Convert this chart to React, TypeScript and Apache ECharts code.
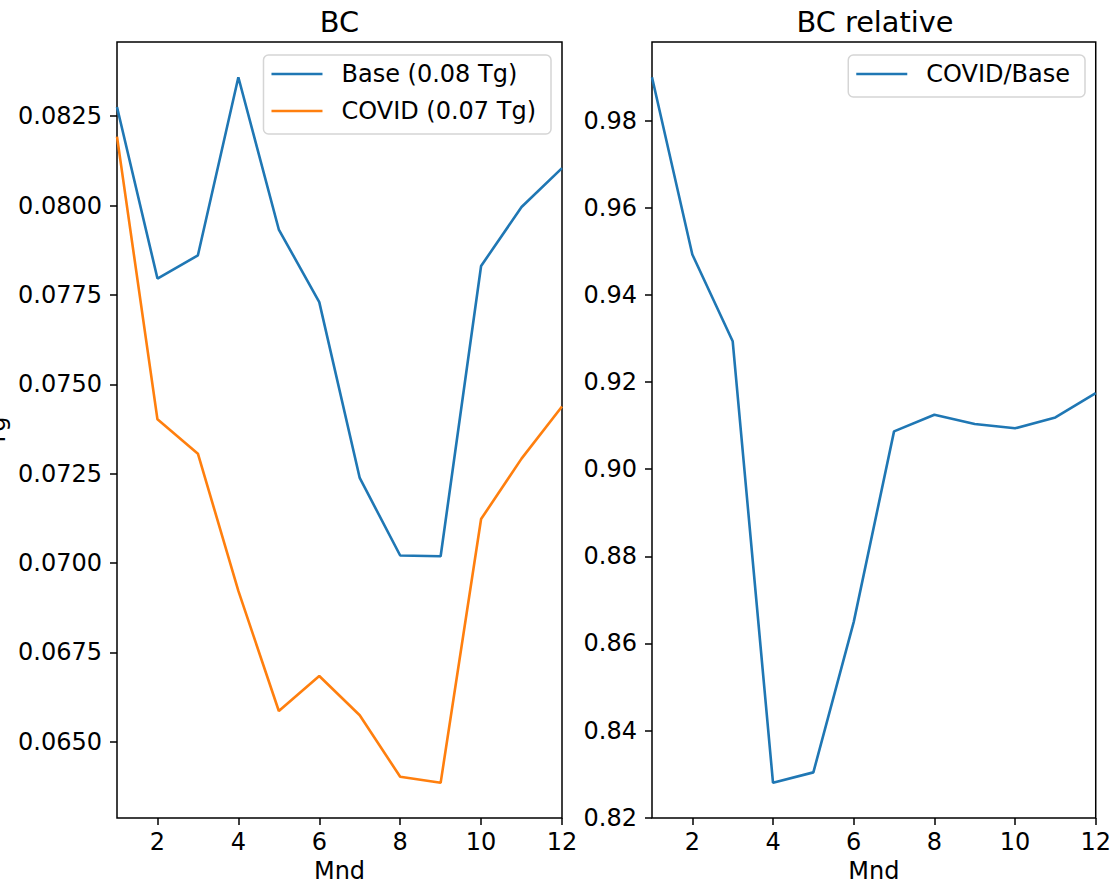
import React, { useEffect, useRef } from "react";
import * as echarts from "echarts";

const months = [1, 2, 3, 4, 5, 6, 7, 8, 9, 10, 11, 12];
const baseValues = [0.08276, 0.07796, 0.07861, 0.08359, 0.07933, 0.0773, 0.07238, 0.07021, 0.07019, 0.07831, 0.07996, 0.08105];
const covidValues = [0.08193, 0.07402, 0.07306, 0.06922, 0.06586, 0.06684, 0.06574, 0.06402, 0.06385, 0.07123, 0.07292, 0.07438];
const ratioValues = [0.99, 0.9493, 0.9294, 0.828, 0.8304, 0.8649, 0.9087, 0.9125, 0.9104, 0.9094, 0.9119, 0.9175];

const xTicks = [2, 4, 6, 8, 10, 12];
const leftYTicks = [0.065, 0.0675, 0.07, 0.0725, 0.075, 0.0775, 0.08, 0.0825];
const rightYTicks = [0.82, 0.84, 0.86, 0.88, 0.9, 0.92, 0.94, 0.96, 0.98];

const baseName = "Base (0.08 Tg)";
const covidName = "COVID (0.07 Tg)";
const ratioName = "COVID/Base";

const FONT = "DejaVu Sans";
const BLUE = "#1f77b4";
const ORANGE = "#ff7f0e";

function limits(arrs: number[][]) {
  const all = arrs.flat();
  const mn = Math.min(...all);
  const mx = Math.max(...all);
  const m = (mx - mn) * 0.05;
  return [mn - m, mx + m];
}

export default function App() {
  const ref = useRef<HTMLDivElement>(null);
  useEffect(() => {
    if (!ref.current) return;
    const chart = echarts.init(ref.current, undefined, { renderer: "svg" });
    const [lMin, lMax] = limits([baseValues, covidValues]);
    const [rMin, rMax] = limits([ratioValues]);
    const pairs = (vals: number[]) => months.map((m, i) => [m, vals[i]]);

    const xAxisCommon = (gridIndex: number) => ({
      type: "value",
      gridIndex,
      min: 1,
      max: 12,
      name: "Mnd",
      nameLocation: "middle",
      nameGap: 52,
      nameTextStyle: { fontFamily: FONT, fontSize: 24, color: "#000", verticalAlign: "middle" },
      axisLine: { show: false },
      splitLine: { show: false },
      axisTick: { show: true, length: 7, lineStyle: { color: "#000", width: 1.5 }, customValues: xTicks },
      axisLabel: {
        customValues: xTicks,
        margin: 12,
        fontFamily: FONT,
        fontSize: 24,
        color: "#000",
        showMinLabel: true,
        showMaxLabel: true,
      },
    });

    const yAxisCommon = (gridIndex: number, min: number, max: number, ticks: number[], digits: number) => ({
      type: "value",
      gridIndex,
      min,
      max,
      axisLine: { show: false },
      splitLine: { show: false },
      axisTick: { show: true, length: 7, lineStyle: { color: "#000", width: 1.5 }, customValues: ticks },
      axisLabel: {
        customValues: ticks,
        margin: 15,
        fontFamily: FONT,
        fontSize: 24,
        color: "#000",
        showMinLabel: true,
        showMaxLabel: true,
        formatter: (v: number) => v.toFixed(digits),
      },
    });

    const legendCommon = {
      orient: "vertical",
      top: 55,
      backgroundColor: "#ffffff",
      borderColor: "#d5d5d5",
      borderWidth: 1.5,
      borderRadius: 5,
      padding: [6, 15, 10, 8],
      itemWidth: 51,
      itemHeight: 2.5,
      itemGap: 11,
      icon: "rect",
      textStyle: { fontFamily: FONT, fontSize: 24, lineHeight: 26, color: "#000", padding: [0, 0, 0, 14] },
    };

    chart.setOption({
      animation: false,
      backgroundColor: "#ffffff",
      grid: [
        { left: 117, top: 42, width: 445, height: 779, show: true, borderColor: "#000", borderWidth: 1.5, backgroundColor: "#fff" },
        { left: 652, top: 42, width: 446, height: 779, show: true, borderColor: "#000", borderWidth: 1.5, backgroundColor: "#fff" },
      ],
      xAxis: [xAxisCommon(0), xAxisCommon(1)],
      yAxis: [
        yAxisCommon(0, lMin, lMax, leftYTicks, 4),
        yAxisCommon(1, rMin, rMax, rightYTicks, 2),
      ],
      legend: [
        { ...legendCommon, data: [baseName, covidName], right: 1114 - 551 },
        { ...legendCommon, data: [ratioName], right: 1114 - 1085 },
      ],
      graphic: [
        { type: "text", x: 339.5, y: 21.7, style: { text: "BC", fontFamily: FONT, fontSize: 28.8, fill: "#000", textAlign: "center", textVerticalAlign: "middle" } },
        { type: "text", x: 875, y: 21.7, style: { text: "BC relative", fontFamily: FONT, fontSize: 28.8, fill: "#000", textAlign: "center", textVerticalAlign: "middle" } },
        { type: "text", x: 9, y: 431.5, rotation: Math.PI / 2, style: { text: "Tg", fontFamily: FONT, fontSize: 24, fill: "#000", textAlign: "center", textVerticalAlign: "bottom" } },
      ],
      series: [
        { name: baseName, type: "line", xAxisIndex: 0, yAxisIndex: 0, data: pairs(baseValues), showSymbol: false, symbol: "none", lineStyle: { color: BLUE, width: 2.6 }, itemStyle: { color: BLUE } },
        { name: covidName, type: "line", xAxisIndex: 0, yAxisIndex: 0, data: pairs(covidValues), showSymbol: false, symbol: "none", lineStyle: { color: ORANGE, width: 2.6 }, itemStyle: { color: ORANGE } },
        { name: ratioName, type: "line", xAxisIndex: 1, yAxisIndex: 1, data: pairs(ratioValues), showSymbol: false, symbol: "none", lineStyle: { color: BLUE, width: 2.6 }, itemStyle: { color: BLUE } },
      ],
    });
    return () => chart.dispose();
  }, []);
  return (
    <div
      ref={ref}
      style={{ position: "absolute", left: 0, top: 0, width: 1114, height: 888, background: "#fff" }}
    />
  );
}
